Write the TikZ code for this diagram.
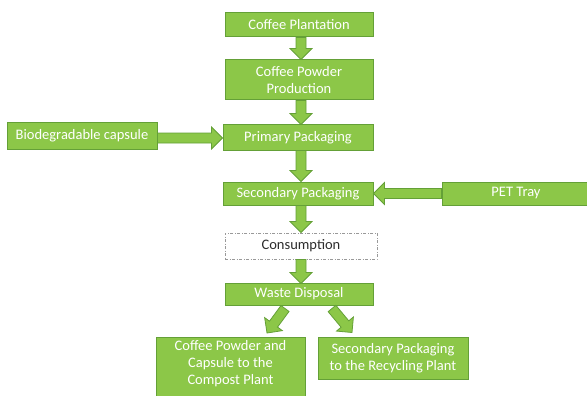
\documentclass[tikz,border=0pt]{standalone}
\usepackage{fontspec}
\setmainfont{Carlito}
\usetikzlibrary{calc}
\definecolor{gfill}{RGB}{140,199,72}
\definecolor{gbdr}{RGB}{100,160,55}
\definecolor{ctext}{RGB}{45,45,45}
\newcommand\fatarrow[2]{%
  \coordinate (fa-s) at #1;
  \coordinate (fa-e) at #2;
  \coordinate (fa-m) at ($(fa-e)!11pt!(fa-s)$);
  \filldraw[arrowbody] ($(fa-s)!5pt!90:(fa-e)$) -- ($(fa-m)!5pt!-90:(fa-s)$)
    -- ($(fa-m)!11pt!-90:(fa-s)$) -- (fa-e) -- ($(fa-m)!11pt!90:(fa-s)$)
    -- ($(fa-m)!5pt!90:(fa-s)$) -- ($(fa-s)!5pt!-90:(fa-e)$) -- cycle;}
\begin{document}
\begin{tikzpicture}[x=1pt,y=-1pt,
  box/.style={draw=gbdr, fill=gfill, line width=1pt, text=white, inner sep=0pt,
    align=center, font=\fontsize{14.5}{17}\selectfont},
  dotbox/.style={draw=gray!80, line width=1pt, dash pattern=on 3pt off 1.5pt on 1pt off 1.5pt,
    fill=white, text=ctext, inner sep=0pt, font=\fontsize{14.5}{17}\selectfont},
  arrowbody/.style={fill=gfill, draw=gbdr, line width=0.8pt, line join=miter}]
\useasboundingbox (0,0) rectangle (587,396);

\node[box, minimum width=148pt, minimum height=24pt] (plant) at (299,25) {Coffee Plantation};
\node[box, minimum width=148pt, minimum height=40pt] (powder) at (299,80) {Coffee Powder\\Production};
\node[box, minimum width=150pt, minimum height=25pt] (prim) at (298,137.5) {Primary Packaging};
\node[box, minimum width=150pt, minimum height=26pt] (bio) at (82,136) {Biodegradable capsule};
\node[box, minimum width=150pt, minimum height=23pt] (sec) at (298,193.5) {Secondary Packaging};
\node[box, minimum width=148pt, minimum height=23pt] (pet) at (516,193.5) {PET Tray};
\node[dotbox, minimum width=152pt, minimum height=26pt] (cons) at (301,246) {Consumption};
\node[box, minimum width=148pt, minimum height=22pt] (waste) at (299,294) {Waste Disposal};
\node[box, minimum width=149pt, minimum height=70pt, anchor=north] (compost) at (230.5,337)
  {\raisebox{4.5pt}[0pt][0pt]{\begin{tabular}{@{}c@{}}Coffee Powder and\\Capsule to the\\Compost Plant\end{tabular}}};
\node[box, minimum width=150pt, minimum height=42pt] (recyc) at (393,358) {Secondary Packaging\\to the Recycling Plant};

\fatarrow{($(plant.south)+(2,0)$)}{($(powder.north)+(2,0)$)}
\fatarrow{($(powder.south)+(2,0)$)}{($(prim.north)+(3,0)$)}
\fatarrow{($(prim.south)+(3,0)$)}{($(sec.north)+(3,0)$)}
\fatarrow{($(sec.south)+(3,0)$)}{($(cons.north)+(0,0)$)}
\fatarrow{(cons.south)}{($(waste.south)+(2,-22)$)}
\fatarrow{($(bio.east)+(0,2)$)}{($(bio.east -| prim.west)+(0,2)$)}
\fatarrow{(pet.west)}{(pet.west -| sec.east)}
\fatarrow{($(waste.south)+(-14,3)$)}{($(compost.north)+(36.5,-4)$)}
\fatarrow{($(waste.south)+(33,3)$)}{($(recyc.north)+(-41,-4)$)}
\end{tikzpicture}
\end{document}
